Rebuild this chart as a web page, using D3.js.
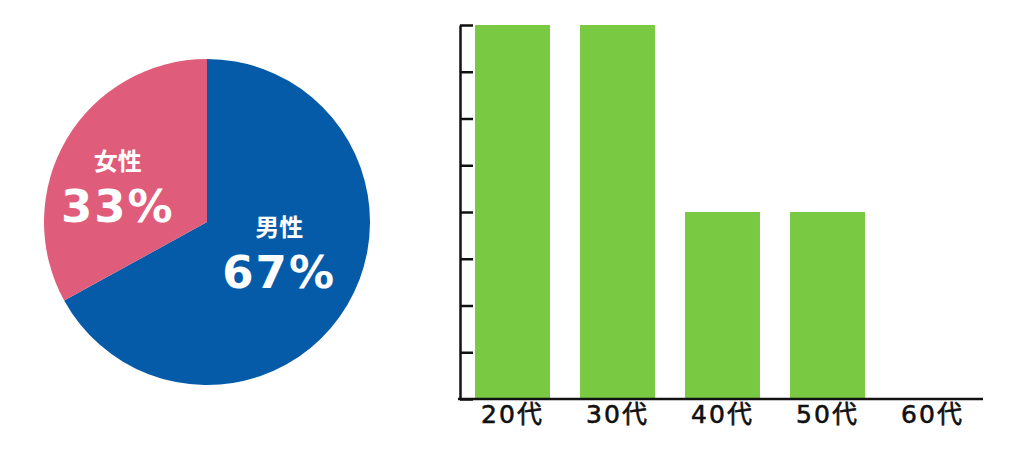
<!DOCTYPE html>
<html lang="ja">
<head>
<meta charset="UTF-8">
<title>男女比と年代</title>
<script src="https://d3js.org/d3.v7.min.js"></script>
<style>
  body { margin: 0; background: #fff; }
</style>
</head>
<body>
<div id="chart"></div>
<script>
// pie data
const genderLabels = ["男性", "女性"];
const genderValues = [67, 33];
const genderColors = ["#065ba9", "#e05c7b"];

// bar data
const ageGroups = ["20代", "30代", "40代", "50代", "60代"];
const ageCounts = [8, 8, 4, 4, 0];
const yTicks = [0, 1, 2, 3, 4, 5, 6, 7, 8];

const svg = d3.select("#chart")
  .append("svg")
  .attr("width", 1024)
  .attr("height", 450);

// ---- pie ----
const cx = 207, cy = 222, r = 163;
const pieG = svg.append("g").attr("transform", `translate(${cx},${cy})`);

// 男性 clockwise from 12 o'clock, 女性 fills the rest
const pie = d3.pie().sort(null).value(d => d.v);
const arc = d3.arc().innerRadius(0).outerRadius(r);
const pieData = pie(genderLabels.map((l, i) => ({ label: l, v: genderValues[i], c: genderColors[i] })));

pieG.selectAll("path")
  .data(pieData)
  .enter()
  .append("path")
  .attr("d", arc)
  .attr("fill", d => d.data.c);

// labels sit near the centroid, nudged by hand like the original
const labelArc = d3.arc().innerRadius(r * 0.55).outerRadius(r * 0.55);
const nudge = [[-5, 20], [-12, 46]];
const labelG = pieG.selectAll("g.lbl")
  .data(pieData)
  .enter()
  .append("g")
  .attr("class", "lbl")
  .attr("transform", (d, i) => {
    const [x, y] = labelArc.centroid(d);
    return `translate(${x + nudge[i][0]},${y + nudge[i][1]})`;
  });

labelG.append("text")
  .attr("text-anchor", "middle")
  .attr("y", -52)
  .attr("fill", "#fff")
  .style("font-family", "'Noto Sans CJK JP', sans-serif")
  .style("font-weight", 700)
  .style("font-size", "24px")
  .text(d => d.data.label);

labelG.append("text")
  .attr("text-anchor", "middle")
  .attr("y", 0)
  .attr("fill", "#fff")
  .style("font-family", "'DejaVu Sans', sans-serif")
  .style("font-weight", 700)
  .style("font-size", "45px")
  .style("letter-spacing", "2px")
  .text(d => d.data.v + "%");

// ---- bars ----
const x = d3.scaleBand()
  .domain(ageGroups)
  .range([460, 985])
  .paddingInner(0.286)
  .paddingOuter(0.143);

const y = d3.scaleLinear()
  .domain([0, 8])
  .range([399, 25]);

svg.selectAll("rect.bar")
  .data(ageGroups)
  .enter()
  .append("rect")
  .attr("class", "bar")
  .attr("x", d => x(d))
  .attr("width", x.bandwidth())
  .attr("y", (d, i) => y(ageCounts[i]))
  .attr("height", (d, i) => y(0) - y(ageCounts[i]))
  .attr("fill", "#7ac943");

// y axis: ticks pointing inward
const yAxis = svg.append("g")
  .attr("transform", "translate(460,0)")
  .call(d3.axisRight(y).tickValues(yTicks).tickSize(13).tickSizeOuter(0).tickFormat(""));
yAxis.selectAll("path, line").attr("stroke", "#111").attr("stroke-width", 2.5);

// x axis
const xAxis = svg.append("g")
  .attr("transform", "translate(0,399)")
  .call(d3.axisBottom(x).tickSize(0).tickSizeOuter(0).tickPadding(6));
xAxis.select(".domain").attr("stroke", "#111").attr("stroke-width", 2.5).attr("d", "M458,0H983");
xAxis.selectAll("text")
  .attr("fill", "#111")
  .attr("stroke", "#111")
  .attr("stroke-width", 0.6)
  .style("font-family", "'DejaVu Sans', 'Noto Sans CJK JP', sans-serif")
  .style("font-size", "25px")
  .style("letter-spacing", "2px");
</script>
</body>
</html>
